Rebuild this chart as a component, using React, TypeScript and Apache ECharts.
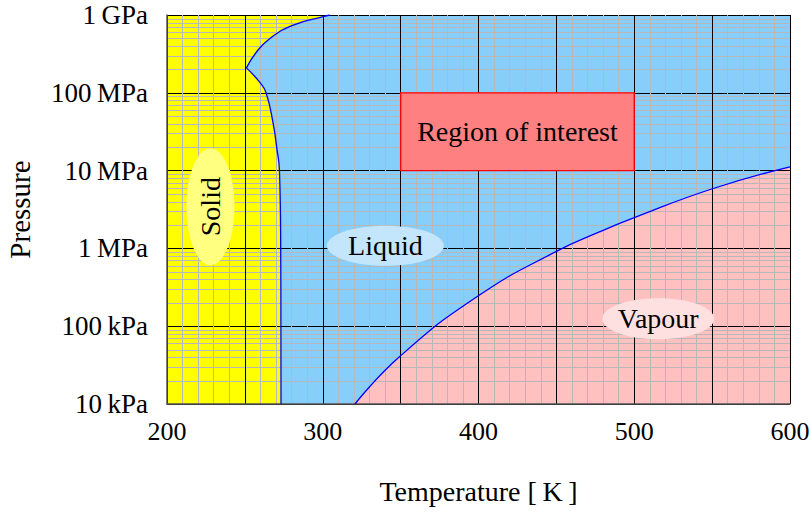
import React, { useEffect, useRef } from 'react';
import * as echarts from 'echarts';

// ---- axis ticks ----
const xMin = 200;
const xMax = 600;
const xLabelValues = [200, 300, 400, 500, 600];
const yMin = 1e4;
const yMax = 1e9;
const yTickValues = [1e4, 1e5, 1e6, 1e7, 1e8, 1e9];
const yTickLabels = ['10\u2009kPa', '100\u2009kPa', '1\u2009MPa', '10\u2009MPa', '100\u2009MPa', '1\u2009GPa'];
const yDecades = [1e4, 1e5, 1e6, 1e7, 1e8];
const yMinorFactors = [2, 3, 4, 5, 6, 7, 8, 9];

// ---- phase boundaries (T in K, P in Pa) ----
const cuspT = 251;
const meltLowT = [251, 259.7, 263.6, 268.2, 270.4, 272.2, 273.0, 273.15, 273.2];
const meltLowP = [2.09e8, 1.35e8, 1.0e8, 4.0e7, 2.0e7, 1.0e7, 1.0e6, 1.0e5, 1.0e4];
const meltUpT = [251, 257.6, 266.1, 281.1, 300.3, 304.6];
const meltUpP = [2.09e8, 3.37e8, 5.0e8, 7.43e8, 9.5e8, 1.0e9];
const vapT = [320.7, 349.6, 399.7, 449.7, 478, 500, 549.7, 600];
const vapP = [1.0e4, 4.1e4, 2.44e5, 9.1e5, 1.64e6, 2.48e6, 5.8e6, 1.12e7];

// ---- annotations ----
const phaseNames = ['Solid', 'Liquid', 'Vapour'];
const phaseT = [227.9, 340.2, 515.4];
const phaseP = [3.44e6, 1.08e6, 1.25e5];
const roiT = [350, 500];
const roiP = [1e7, 1e8];
const roiLabel = 'Region of interest';

const FONT = 'Liberation Serif';
const ellipsePath = 'path://M50 0C77.6 0 100 22.4 100 50C100 77.6 77.6 100 50 100C22.4 100 0 77.6 0 50C0 22.4 22.4 0 50 0Z';
const phaseStyle = [
  { size: [48, 117], color: '#ffff80', rotate: 90 },
  { size: [117, 40], color: '#c3e6fd', rotate: 0 },
  { size: [112, 41], color: '#ffe0e0', rotate: 0 },
];

const zip = (a: number[], b: number[]) => a.map((v, i) => [v, b[i]]);

export default function App() {
  const ref = useRef<HTMLDivElement>(null);
  useEffect(() => {
    if (!ref.current) return;
    const chart = echarts.init(ref.current, undefined, { renderer: 'svg' });
    const minorY: number[][] = [];
    yDecades.forEach((d) => yMinorFactors.forEach((f) => minorY.push([xMin, d * f])));

    const fill = (data: number[][], origin: number, color: string) => ({
      type: 'line',
      data,
      smooth: true,
      showSymbol: false,
      symbol: 'none',
      silent: true,
      z: 1,
      lineStyle: { width: 0, opacity: 0 },
      areaStyle: { origin, color, opacity: 1 },
    });
    const curve = (data: number[][]) => ({
      type: 'line',
      data,
      smooth: true,
      showSymbol: false,
      symbol: 'none',
      silent: true,
      z: 4,
      lineStyle: { width: 1.3, color: '#0000ff' },
    });

    chart.setOption({
      animation: false,
      textStyle: { fontFamily: FONT },
      grid: {
        left: 167,
        right: 20,
        top: 15,
        bottom: 108,
        show: true,
        borderWidth: 0,
        containLabel: false,
        outerBoundsMode: 'none',
        backgroundColor: '#87cefa',
      },
      xAxis: {
        type: 'value',
        min: xMin,
        max: xMax,
        interval: 50,
        z: 3,
        name: 'Temperature [\u2009K\u2009]',
        nameLocation: 'middle',
        nameGap: 73,
        nameTextStyle: { fontSize: 28, color: '#000', fontFamily: FONT },
        axisLine: { show: true, lineStyle: { color: '#555', width: 1.5 } },
        axisTick: { show: false },
        axisLabel: {
          fontSize: 26,
          color: '#000',
          fontFamily: FONT,
          margin: 14,
          formatter: (v: number) => (xLabelValues.indexOf(v) >= 0 ? String(v) : ''),
        },
        splitLine: { show: true, lineStyle: { color: '#000', width: 1 } },
        minorTick: { show: false, splitNumber: 5 },
        minorSplitLine: { show: true, lineStyle: { color: '#b8b8b8', width: 1 } },
      },
      yAxis: {
        type: 'log',
        logBase: 10,
        min: yMin,
        max: yMax,
        z: 3,
        name: 'Pressure',
        nameLocation: 'middle',
        nameGap: 133,
        nameTextStyle: { fontSize: 29, color: '#000', fontFamily: FONT },
        axisLine: { show: true, lineStyle: { color: '#555', width: 1.5 } },
        axisTick: { show: false },
        axisLabel: {
          fontSize: 27,
          color: '#000',
          fontFamily: FONT,
          margin: 19,
          formatter: (v: number) => {
            const i = yTickValues.findIndex((t) => Math.abs(Math.log10(t) - Math.log10(v)) < 1e-6);
            return i >= 0 ? yTickLabels[i] : '';
          },
        },
        splitLine: { show: true, lineStyle: { color: '#000', width: 1 } },
      },
      series: [
        fill([[xMin, yMax], [cuspT, yMax]], yMin, '#ffff00'),
        fill(zip(meltLowT, meltLowP), yMin, '#ffff00'),
        fill(zip(meltUpT, meltUpP), yMax, '#ffff00'),
        fill(zip(vapT, vapP), yMin, '#ffc0c0'),
        {
          type: 'custom',
          z: 2,
          silent: true,
          data: minorY,
          renderItem: (params: any, api: any) => {
            const cs = params.coordSys;
            const y = Math.round(api.coord([xMin, api.value(1)])[1]) + 0.5;
            return {
              type: 'line',
              shape: { x1: cs.x, y1: y, x2: cs.x + cs.width, y2: y },
              style: { stroke: '#b8b8b8', lineWidth: 1 },
            };
          },
        },
        curve(zip(meltLowT, meltLowP)),
        curve(zip(meltUpT, meltUpP)),
        curve(zip(vapT, vapP)),
        {
          type: 'custom',
          z: 5,
          silent: true,
          data: [[roiT[0], roiP[0]]],
          renderItem: (params: any, api: any) => {
            const p1 = api.coord([roiT[0], roiP[1]]);
            const p2 = api.coord([roiT[1], roiP[0]]);
            return {
              type: 'group',
              children: [
                {
                  type: 'rect',
                  shape: { x: p1[0], y: p1[1], width: p2[0] - p1[0], height: p2[1] - p1[1] },
                  style: { fill: '#ff8080', stroke: '#ff0000', lineWidth: 1.3 },
                },
                {
                  type: 'text',
                  x: (p1[0] + p2[0]) / 2,
                  y: (p1[1] + p2[1]) / 2,
                  style: {
                    text: roiLabel,
                    fontSize: 28,
                    fontFamily: FONT,
                    fill: '#000',
                    align: 'center',
                    verticalAlign: 'middle',
                  },
                },
              ],
            };
          },
        },
        {
          type: 'scatter',
          z: 5,
          silent: true,
          symbol: ellipsePath,
          data: phaseNames.map((name, i) => ({
            name,
            value: [phaseT[i], phaseP[i]],
            symbolSize: phaseStyle[i].size,
            itemStyle: { color: phaseStyle[i].color, opacity: 1 },
            label: { rotate: phaseStyle[i].rotate },
          })),
          label: {
            show: true,
            position: 'inside',
            formatter: '{b}',
            fontSize: 28,
            fontFamily: FONT,
            color: '#000',
          },
        },
      ],
    });
    return () => chart.dispose();
  }, []);
  return <div ref={ref} style={{ position: 'absolute', left: 0, top: 0, width: 810, height: 512 }} />;
}
